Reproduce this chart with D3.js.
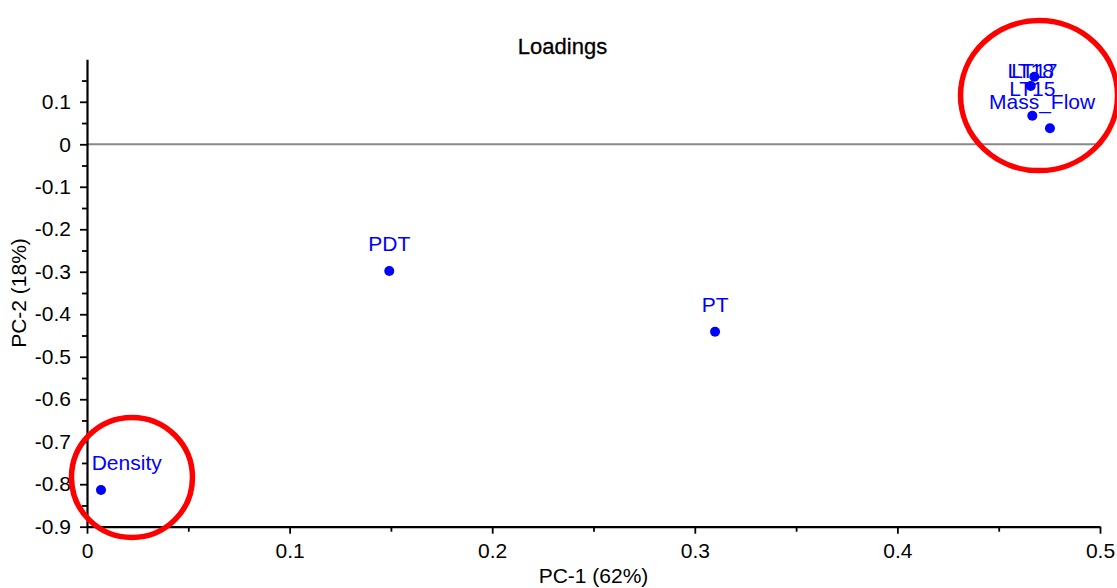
<!DOCTYPE html>
<html>
<head>
<meta charset="utf-8">
<script src="https://cdn.jsdelivr.net/npm/d3@7/dist/d3.min.js"></script>
<style>
  html, body { margin: 0; padding: 0; background: #fff; }
  svg { display: block; font-family: "Liberation Sans", Arial, sans-serif; }
</style>
</head>
<body>
<svg id="chart" width="1117" height="588"></svg>
<script>
// ---- data ----
const variables = ["Density", "PDT", "PT", "LT17", "LT18", "LT15", "Mass_Flow"];
const pc1 = [0.0069, 0.1492, 0.3100, 0.4676, 0.4658, 0.4666, 0.4753];
const pc2 = [-0.8136, -0.2982, -0.4410, 0.1591, 0.1372, 0.0673, 0.0377];
const xMajorTicks = [0, 0.1, 0.2, 0.3, 0.4, 0.5];
const xMinorTicks = [0.05, 0.15, 0.25, 0.35, 0.45];
const yMajorTicks = [-0.9, -0.8, -0.7, -0.6, -0.5, -0.4, -0.3, -0.2, -0.1, 0, 0.1];
const yMinorTicks = [-0.85, -0.75, -0.65, -0.55, -0.45, -0.35, -0.25, -0.15, -0.05, 0.05, 0.15];
const titleText = "Loadings";
const xTitle = "PC-1 (62%)";
const yTitle = "PC-2 (18%)";
// annotation circles (in data units: center pc1, pc2)
const highlightCenters = [[0.4699, 0.1146], [0.0222, -0.7842]];

// ---- layout ----
const W = 1117, H = 588;
const plot = { left: 87, right: 1100, top: 59.3, bottom: 526.7 };
const fontSize = 21;
const blue = "#0000ff";

const svg = d3.select("#chart");
const x = d3.scaleLinear().domain([0, 0.5]).range([plot.left, plot.right]);
const y = d3.scaleLinear().domain([-0.9, 0.2]).range([plot.bottom, plot.top]);

// zero line
svg.append("line")
  .attr("x1", x(0)).attr("x2", x(0.5))
  .attr("y1", y(0)).attr("y2", y(0))
  .attr("stroke", "#888888").attr("stroke-width", 2);

// x axis
const fmt = d => (d === 0 ? "0" : d3.format(".1f")(d).replace("\u2212", "-"));
const xAxis = d3.axisBottom(x).tickValues(xMajorTicks).tickFormat(fmt).tickSize(7).tickSizeOuter(0).tickPadding(9);
const gx = svg.append("g").attr("transform", `translate(0,${plot.bottom})`).call(xAxis);
gx.selectAll("text").attr("font-size", fontSize).attr("font-family", "Liberation Sans, Arial, sans-serif").attr("fill", "#000");
gx.selectAll("line").attr("stroke", "#000").attr("stroke-width", 1.8);
gx.select(".domain").attr("stroke", "#000").attr("stroke-width", 2.2);
const xMinor = d3.axisBottom(x).tickValues(xMinorTicks).tickFormat("").tickSize(5).tickSizeOuter(0);
const gxm = svg.append("g").attr("transform", `translate(0,${plot.bottom})`).call(xMinor);
gxm.select(".domain").remove();
gxm.selectAll("line").attr("stroke", "#000").attr("stroke-width", 1.8);

// y axis
const yAxis = d3.axisLeft(y).tickValues(yMajorTicks).tickFormat(fmt).tickSize(7).tickSizeOuter(0).tickPadding(9);
const gy = svg.append("g").attr("transform", `translate(${plot.left},0)`).call(yAxis);
gy.selectAll("text").attr("font-size", fontSize).attr("font-family", "Liberation Sans, Arial, sans-serif").attr("fill", "#000");
gy.selectAll("line").attr("stroke", "#000").attr("stroke-width", 1.8);
gy.select(".domain").attr("stroke", "#000").attr("stroke-width", 2.2);
const yMinor = d3.axisLeft(y).tickValues(yMinorTicks).tickFormat("").tickSize(5).tickSizeOuter(0);
const gym = svg.append("g").attr("transform", `translate(${plot.left},0)`).call(yMinor);
gym.select(".domain").remove();
gym.selectAll("line").attr("stroke", "#000").attr("stroke-width", 1.8);

// titles
svg.append("text").attr("x", 562.5).attr("y", 53.5).attr("text-anchor", "middle")
  .attr("font-size", 22).attr("fill", "#000").attr("stroke", "#000").attr("stroke-width", 0.3).text(titleText);
svg.append("text").attr("x", (plot.left + plot.right) / 2).attr("y", 583).attr("text-anchor", "middle")
  .attr("font-size", fontSize).attr("fill", "#000").text(xTitle);
svg.append("text").attr("transform", `translate(26,${(plot.top + plot.bottom) / 2}) rotate(-90)`)
  .attr("text-anchor", "middle").attr("font-size", fontSize).attr("fill", "#000").text(yTitle);

// points
const data = variables.map((v, i) => ({ name: v, x: pc1[i], y: pc2[i] }));
svg.append("g").selectAll("circle").data(data).join("circle")
  .attr("cx", d => x(d.x)).attr("cy", d => y(d.y)).attr("r", 5).attr("fill", blue);

// labels: above point, clamped inside plot area
const labels = svg.append("g").selectAll("text").data(data).join("text")
  .attr("x", d => x(d.x)).attr("y", d => y(d.y) - 19.5)
  .attr("text-anchor", "middle").attr("font-size", fontSize).attr("fill", blue)
  .text(d => d.name);
labels.each(function (d) {
  const t = d3.select(this);
  const bb = this.getBBox();
  let dx = 0, dy = 0;
  if (bb.x < plot.left + 4.7) dx = plot.left + 4.7 - bb.x;
  if (bb.x + bb.width > plot.right - 4) dx = plot.right - 4 - (bb.x + bb.width);
  if (bb.y < plot.top) dy = plot.top - bb.y;
  t.attr("x", +t.attr("x") + dx).attr("y", +t.attr("y") + dy);
});

// red highlight circles
svg.append("ellipse").attr("cx", x(highlightCenters[0][0])).attr("cy", y(highlightCenters[0][1]))
  .attr("rx", 78.5).attr("ry", 75).attr("fill", "none").attr("stroke", "#ff0000").attr("stroke-width", 5.5);
svg.append("ellipse").attr("cx", x(highlightCenters[1][0])).attr("cy", y(highlightCenters[1][1]))
  .attr("rx", 60.5).attr("ry", 60).attr("fill", "none").attr("stroke", "#ff0000").attr("stroke-width", 5.5);
</script>
</body>
</html>
